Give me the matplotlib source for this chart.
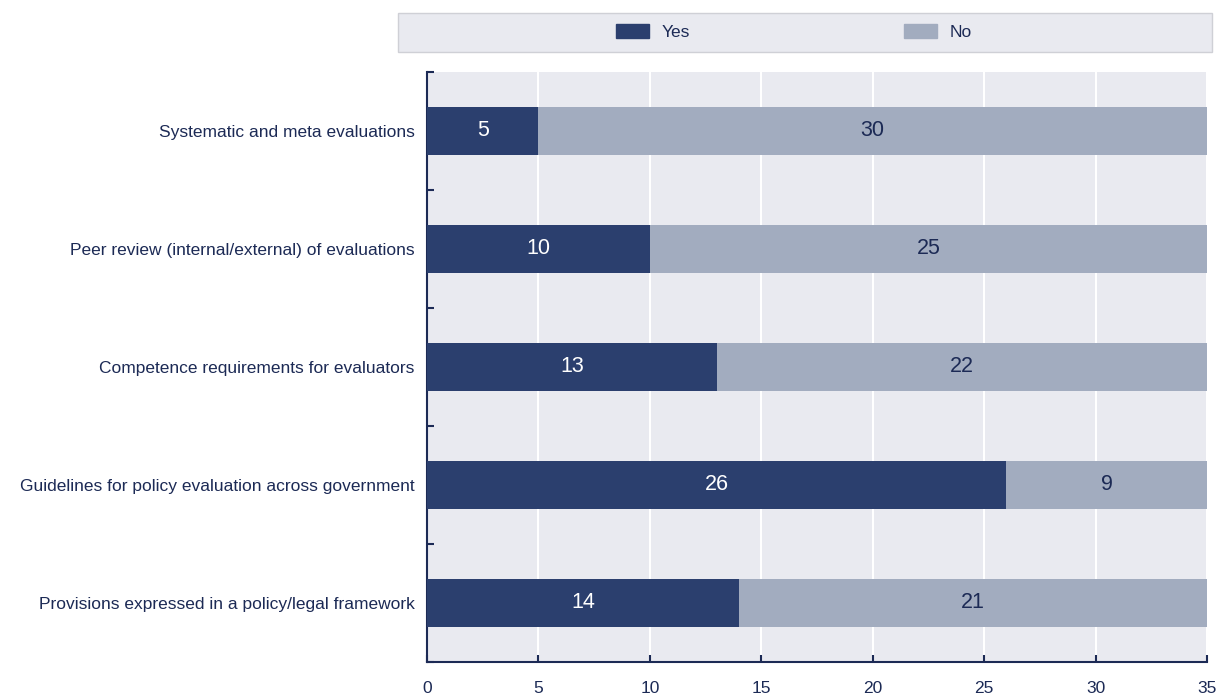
import matplotlib.pyplot as plt
import matplotlib.patches as mpatches
from matplotlib import font_manager

# data, top to bottom
categories = [
    "Systematic and meta evaluations",
    "Peer review (internal/external) of evaluations",
    "Competence requirements for evaluators",
    "Guidelines for policy evaluation across government",
    "Provisions expressed in a policy/legal framework",
]
yes_vals = [5, 10, 13, 26, 14]
no_vals = [30, 25, 22, 9, 21]
x_ticks = [0, 5, 10, 15, 20, 25, 30, 35]

YES_COLOR = "#2b3f6e"
NO_COLOR = "#a2acbf"
BG = "#e9eaf0"
TEXT = "#1c2a55"

names = {f.name for f in font_manager.fontManager.ttflist}
family = "Liberation Sans Narrow" if "Liberation Sans Narrow" in names else "Liberation Sans"
plt.rcParams["font.family"] = [family, "DejaVu Sans"]

W, H = 1217, 695
fig = plt.figure(figsize=(W / 100, H / 100), dpi=100)
ax = fig.add_axes([427 / W, 1 - 662 / H, 780 / W, 590 / H])
ax.set_facecolor(BG)

ypos = list(range(len(categories)))
ax.barh(ypos, yes_vals, height=0.4, color=YES_COLOR, zorder=3)
ax.barh(ypos, no_vals, left=yes_vals, height=0.4, color=NO_COLOR, zorder=3)
for y, a, b in zip(ypos, yes_vals, no_vals):
    ax.text(a / 2, y, str(a), ha="center", va="center", color="white", fontsize=15.5, zorder=4)
    ax.text(a + b / 2, y, str(b), ha="center", va="center", color=TEXT, fontsize=15.5, zorder=4)

ax.set_xlim(0, 35)
ax.set_ylim(len(categories) - 0.5, -0.5)
ax.set_xticks(x_ticks)
ax.set_xticklabels([str(t) for t in x_ticks], fontsize=12.5, color=TEXT)
ax.xaxis.grid(True, color="white", linewidth=1.5, zorder=1)
ax.set_axisbelow(True)

# category labels without tick marks, tick marks at boundaries
ax.set_yticks(ypos)
ax.set_yticklabels(categories, fontsize=12.5, color=TEXT)
ax.tick_params(axis="y", length=0, pad=9)
ax.set_yticks([i - 0.5 for i in range(len(categories) + 1)], minor=True)
ax.tick_params(axis="y", which="minor", direction="in", length=5, width=1.5, color=TEXT)
ax.tick_params(axis="x", direction="in", length=5, width=1.5, color=TEXT, pad=14)

for s in ["top", "right"]:
    ax.spines[s].set_visible(False)
for s in ["left", "bottom"]:
    ax.spines[s].set_color(TEXT)
    ax.spines[s].set_linewidth(1.5)

# legend band on top
fig.patches.append(mpatches.Rectangle((398 / W, 1 - 52 / H), 814 / W, 39 / H,
                                      transform=fig.transFigure, facecolor=BG,
                                      edgecolor="#cfd0d6", linewidth=1))
handles = [mpatches.Patch(color=YES_COLOR, label="Yes"),
           mpatches.Patch(color=NO_COLOR, label="No")]
fig.legend(handles=handles, loc="center", bbox_to_anchor=(794 / W, 1 - 32 / H),
           ncol=2, frameon=False, fontsize=12.5, columnspacing=12.3,
           handlelength=1.9, handleheight=0.9, handletextpad=0.75, labelcolor=TEXT)

fig.savefig("out.png", dpi=100)
